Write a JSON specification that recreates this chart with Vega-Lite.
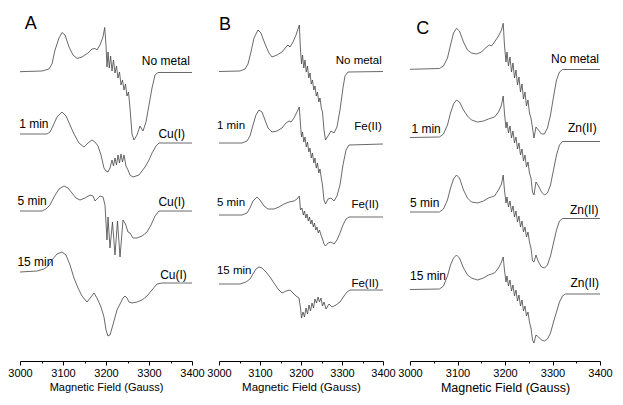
{
"$schema": "https://vega.github.io/schema/vega-lite/v6.json",
"background": "white",
"padding": {"left": 7, "top": 0, "right": 5, "bottom": 5},
"spacing": 27,
"bounds": "flush",
"config": {"view": {"stroke": null}, "font": "Liberation Sans",
  "axis": {"domainColor": "black", "tickColor": "black", "labelColor": "black", "titleColor": "black", "grid": false, "labelFlush": false, "labelOverlap": false, "titleFontWeight": "normal", "labelFont": "Liberation Sans", "titleFont": "Liberation Sans"}},
"datasets": {
"spectra": [
{"p":"A","t":"n","x":3000,"y":289.3},{"p":"A","t":"n","x":3051.2,"y":290},{"p":"A","t":"n","x":3067.4,"y":292},{"p":"A","t":"n","x":3074.4,"y":297},{"p":"A","t":"n","x":3081.4,"y":311},{"p":"A","t":"n","x":3090.7,"y":323},{"p":"A","t":"n","x":3097.7,"y":328.5},{"p":"A","t":"n","x":3104.7,"y":326},{"p":"A","t":"n","x":3114,"y":314},{"p":"A","t":"n","x":3123.3,"y":306},{"p":"A","t":"n","x":3132.6,"y":302.5},{"p":"A","t":"n","x":3144.2,"y":304},{"p":"A","t":"n","x":3158.1,"y":308},{"p":"A","t":"n","x":3167.4,"y":312},{"p":"A","t":"n","x":3174.4,"y":312.5},{"p":"A","t":"n","x":3179.1,"y":311},{"p":"A","t":"n","x":3186,"y":316},{"p":"A","t":"n","x":3193,"y":324},{"p":"A","t":"n","x":3197,"y":333.5},{"p":"A","t":"n","x":3200,"y":316},{"p":"A","t":"n","x":3202.3,"y":294},{"p":"A","t":"n","x":3204.7,"y":309},{"p":"A","t":"n","x":3207.7,"y":293},{"p":"A","t":"n","x":3210.7,"y":305},{"p":"A","t":"n","x":3214,"y":290},{"p":"A","t":"n","x":3217.4,"y":301},{"p":"A","t":"n","x":3220.9,"y":288},{"p":"A","t":"n","x":3224.4,"y":295},{"p":"A","t":"n","x":3227.9,"y":283},{"p":"A","t":"n","x":3231.4,"y":289},{"p":"A","t":"n","x":3234.9,"y":276},{"p":"A","t":"n","x":3238.4,"y":281},{"p":"A","t":"n","x":3241.9,"y":271},{"p":"A","t":"n","x":3245.3,"y":277},{"p":"A","t":"n","x":3248.8,"y":265},{"p":"A","t":"n","x":3252.3,"y":269},{"p":"A","t":"n","x":3255.8,"y":253},{"p":"A","t":"n","x":3260.5,"y":227},{"p":"A","t":"n","x":3265.1,"y":221},{"p":"A","t":"n","x":3272.1,"y":226},{"p":"A","t":"n","x":3279.1,"y":235},{"p":"A","t":"n","x":3286,"y":230},{"p":"A","t":"n","x":3293,"y":239},{"p":"A","t":"n","x":3300,"y":256},{"p":"A","t":"n","x":3307,"y":273},{"p":"A","t":"n","x":3314,"y":286},{"p":"A","t":"n","x":3320.9,"y":288.5},{"p":"A","t":"n","x":3400,"y":288.5},
{"p":"A","t":"1","x":3000,"y":227},{"p":"A","t":"1","x":3062.8,"y":227},{"p":"A","t":"1","x":3069.8,"y":229},{"p":"A","t":"1","x":3076.7,"y":235},{"p":"A","t":"1","x":3086,"y":244},{"p":"A","t":"1","x":3097.7,"y":249},{"p":"A","t":"1","x":3107,"y":245},{"p":"A","t":"1","x":3116.3,"y":236},{"p":"A","t":"1","x":3125.6,"y":227},{"p":"A","t":"1","x":3137.2,"y":218},{"p":"A","t":"1","x":3148.8,"y":214},{"p":"A","t":"1","x":3158.1,"y":218},{"p":"A","t":"1","x":3167.4,"y":221},{"p":"A","t":"1","x":3174.4,"y":219},{"p":"A","t":"1","x":3181.4,"y":215},{"p":"A","t":"1","x":3188.4,"y":206},{"p":"A","t":"1","x":3195.3,"y":193},{"p":"A","t":"1","x":3200,"y":190},{"p":"A","t":"1","x":3204.7,"y":189},{"p":"A","t":"1","x":3209.3,"y":193},{"p":"A","t":"1","x":3214,"y":201},{"p":"A","t":"1","x":3217.4,"y":195},{"p":"A","t":"1","x":3220.9,"y":203},{"p":"A","t":"1","x":3224.4,"y":196},{"p":"A","t":"1","x":3227.9,"y":206},{"p":"A","t":"1","x":3231.4,"y":198},{"p":"A","t":"1","x":3234.9,"y":207},{"p":"A","t":"1","x":3238.4,"y":199},{"p":"A","t":"1","x":3241.9,"y":206},{"p":"A","t":"1","x":3246.5,"y":195},{"p":"A","t":"1","x":3251.2,"y":191},{"p":"A","t":"1","x":3255.8,"y":186},{"p":"A","t":"1","x":3262.8,"y":184},{"p":"A","t":"1","x":3269.8,"y":185},{"p":"A","t":"1","x":3276.7,"y":186},{"p":"A","t":"1","x":3283.7,"y":190},{"p":"A","t":"1","x":3290.7,"y":194},{"p":"A","t":"1","x":3300,"y":201},{"p":"A","t":"1","x":3307,"y":208},{"p":"A","t":"1","x":3316.3,"y":215},{"p":"A","t":"1","x":3323.3,"y":218},{"p":"A","t":"1","x":3400,"y":218},
{"p":"A","t":"5","x":3000,"y":150},{"p":"A","t":"5","x":3051.2,"y":150},{"p":"A","t":"5","x":3060.5,"y":152},{"p":"A","t":"5","x":3069.8,"y":156},{"p":"A","t":"5","x":3079.1,"y":164},{"p":"A","t":"5","x":3090.7,"y":172},{"p":"A","t":"5","x":3102.3,"y":175},{"p":"A","t":"5","x":3111.6,"y":173},{"p":"A","t":"5","x":3120.9,"y":168},{"p":"A","t":"5","x":3130.2,"y":163},{"p":"A","t":"5","x":3139.5,"y":161},{"p":"A","t":"5","x":3151.2,"y":163},{"p":"A","t":"5","x":3162.8,"y":166},{"p":"A","t":"5","x":3169.8,"y":165},{"p":"A","t":"5","x":3174.4,"y":160},{"p":"A","t":"5","x":3179.1,"y":162},{"p":"A","t":"5","x":3186,"y":165},{"p":"A","t":"5","x":3193,"y":164},{"p":"A","t":"5","x":3197.7,"y":156},{"p":"A","t":"5","x":3202.3,"y":121},{"p":"A","t":"5","x":3204.7,"y":144},{"p":"A","t":"5","x":3209.3,"y":113},{"p":"A","t":"5","x":3215.1,"y":139},{"p":"A","t":"5","x":3220.9,"y":106},{"p":"A","t":"5","x":3226.7,"y":140},{"p":"A","t":"5","x":3232.6,"y":104},{"p":"A","t":"5","x":3239.5,"y":141},{"p":"A","t":"5","x":3245.3,"y":137},{"p":"A","t":"5","x":3251.2,"y":129},{"p":"A","t":"5","x":3255.8,"y":128},{"p":"A","t":"5","x":3262.8,"y":123},{"p":"A","t":"5","x":3272.1,"y":123},{"p":"A","t":"5","x":3283.7,"y":125},{"p":"A","t":"5","x":3295.3,"y":129},{"p":"A","t":"5","x":3304.7,"y":136},{"p":"A","t":"5","x":3314,"y":145},{"p":"A","t":"5","x":3323.3,"y":150},{"p":"A","t":"5","x":3400,"y":150},
{"p":"A","t":"15","x":3000,"y":89},{"p":"A","t":"15","x":3039.5,"y":90},{"p":"A","t":"15","x":3055.8,"y":92},{"p":"A","t":"15","x":3065.1,"y":95},{"p":"A","t":"15","x":3074.4,"y":101},{"p":"A","t":"15","x":3086,"y":107},{"p":"A","t":"15","x":3097.7,"y":109},{"p":"A","t":"15","x":3107,"y":106},{"p":"A","t":"15","x":3116.3,"y":96},{"p":"A","t":"15","x":3125.6,"y":83},{"p":"A","t":"15","x":3134.9,"y":73},{"p":"A","t":"15","x":3144.2,"y":65},{"p":"A","t":"15","x":3155.8,"y":59},{"p":"A","t":"15","x":3165.1,"y":64},{"p":"A","t":"15","x":3172.1,"y":68},{"p":"A","t":"15","x":3179.1,"y":63},{"p":"A","t":"15","x":3188.4,"y":54},{"p":"A","t":"15","x":3195.3,"y":44},{"p":"A","t":"15","x":3200,"y":31},{"p":"A","t":"15","x":3204.7,"y":25},{"p":"A","t":"15","x":3209.3,"y":26},{"p":"A","t":"15","x":3214,"y":33},{"p":"A","t":"15","x":3218.6,"y":40},{"p":"A","t":"15","x":3225.6,"y":51},{"p":"A","t":"15","x":3232.6,"y":57},{"p":"A","t":"15","x":3239.5,"y":63},{"p":"A","t":"15","x":3244.2,"y":65},{"p":"A","t":"15","x":3248.8,"y":63},{"p":"A","t":"15","x":3253.5,"y":59},{"p":"A","t":"15","x":3260.5,"y":58},{"p":"A","t":"15","x":3272.1,"y":59},{"p":"A","t":"15","x":3283.7,"y":61},{"p":"A","t":"15","x":3295.3,"y":65},{"p":"A","t":"15","x":3307,"y":71},{"p":"A","t":"15","x":3318.6,"y":77},{"p":"A","t":"15","x":3330.2,"y":78},{"p":"A","t":"15","x":3400,"y":78},
{"p":"B","t":"n","x":3000,"y":289.5},{"p":"B","t":"n","x":3051.2,"y":290},{"p":"B","t":"n","x":3063.4,"y":292},{"p":"B","t":"n","x":3070.7,"y":297},{"p":"B","t":"n","x":3078,"y":309},{"p":"B","t":"n","x":3085.4,"y":323},{"p":"B","t":"n","x":3095.1,"y":331},{"p":"B","t":"n","x":3102.4,"y":328},{"p":"B","t":"n","x":3112.2,"y":317},{"p":"B","t":"n","x":3122,"y":308},{"p":"B","t":"n","x":3129.3,"y":304},{"p":"B","t":"n","x":3141.5,"y":306},{"p":"B","t":"n","x":3153.7,"y":309},{"p":"B","t":"n","x":3163.4,"y":314},{"p":"B","t":"n","x":3168.3,"y":316},{"p":"B","t":"n","x":3173.2,"y":314},{"p":"B","t":"n","x":3180.5,"y":319},{"p":"B","t":"n","x":3187.8,"y":326},{"p":"B","t":"n","x":3195.9,"y":336},{"p":"B","t":"n","x":3198.8,"y":311},{"p":"B","t":"n","x":3201.2,"y":297},{"p":"B","t":"n","x":3203.7,"y":306},{"p":"B","t":"n","x":3206.8,"y":293},{"p":"B","t":"n","x":3209.8,"y":301},{"p":"B","t":"n","x":3212.9,"y":289},{"p":"B","t":"n","x":3215.9,"y":295},{"p":"B","t":"n","x":3219,"y":283},{"p":"B","t":"n","x":3222,"y":288},{"p":"B","t":"n","x":3225.1,"y":277},{"p":"B","t":"n","x":3228,"y":281},{"p":"B","t":"n","x":3231.2,"y":271},{"p":"B","t":"n","x":3234.1,"y":275},{"p":"B","t":"n","x":3237.3,"y":265},{"p":"B","t":"n","x":3240.2,"y":269},{"p":"B","t":"n","x":3243.4,"y":259},{"p":"B","t":"n","x":3246.3,"y":263},{"p":"B","t":"n","x":3249.5,"y":253},{"p":"B","t":"n","x":3252.4,"y":249},{"p":"B","t":"n","x":3256.1,"y":231},{"p":"B","t":"n","x":3259.8,"y":221},{"p":"B","t":"n","x":3265.9,"y":225},{"p":"B","t":"n","x":3273.2,"y":230},{"p":"B","t":"n","x":3280.5,"y":228},{"p":"B","t":"n","x":3287.8,"y":234},{"p":"B","t":"n","x":3295.1,"y":251},{"p":"B","t":"n","x":3302.4,"y":273},{"p":"B","t":"n","x":3307.3,"y":285},{"p":"B","t":"n","x":3314.6,"y":289},{"p":"B","t":"n","x":3400,"y":289.5},
{"p":"B","t":"1","x":3000,"y":218},{"p":"B","t":"1","x":3056.1,"y":218},{"p":"B","t":"1","x":3068.3,"y":220},{"p":"B","t":"1","x":3075.6,"y":225},{"p":"B","t":"1","x":3082.9,"y":236},{"p":"B","t":"1","x":3090.2,"y":246},{"p":"B","t":"1","x":3097.6,"y":251},{"p":"B","t":"1","x":3104.9,"y":249},{"p":"B","t":"1","x":3112.2,"y":241},{"p":"B","t":"1","x":3119.5,"y":233},{"p":"B","t":"1","x":3129.3,"y":229},{"p":"B","t":"1","x":3141.5,"y":230},{"p":"B","t":"1","x":3153.7,"y":233},{"p":"B","t":"1","x":3163.4,"y":238},{"p":"B","t":"1","x":3170.7,"y":240},{"p":"B","t":"1","x":3175.6,"y":239},{"p":"B","t":"1","x":3182.9,"y":243},{"p":"B","t":"1","x":3190.2,"y":249},{"p":"B","t":"1","x":3195.9,"y":254},{"p":"B","t":"1","x":3198.8,"y":236},{"p":"B","t":"1","x":3201.2,"y":224},{"p":"B","t":"1","x":3203.7,"y":229},{"p":"B","t":"1","x":3206.8,"y":219},{"p":"B","t":"1","x":3209.8,"y":224},{"p":"B","t":"1","x":3212.9,"y":214},{"p":"B","t":"1","x":3215.9,"y":219},{"p":"B","t":"1","x":3219,"y":209},{"p":"B","t":"1","x":3222,"y":213},{"p":"B","t":"1","x":3225.1,"y":203},{"p":"B","t":"1","x":3228,"y":208},{"p":"B","t":"1","x":3231.2,"y":198},{"p":"B","t":"1","x":3234.1,"y":203},{"p":"B","t":"1","x":3237.3,"y":193},{"p":"B","t":"1","x":3240.2,"y":198},{"p":"B","t":"1","x":3243.4,"y":188},{"p":"B","t":"1","x":3246.3,"y":192},{"p":"B","t":"1","x":3249.5,"y":183},{"p":"B","t":"1","x":3252.4,"y":176},{"p":"B","t":"1","x":3256.1,"y":161},{"p":"B","t":"1","x":3259.8,"y":157},{"p":"B","t":"1","x":3265.9,"y":162},{"p":"B","t":"1","x":3273.2,"y":163},{"p":"B","t":"1","x":3280.5,"y":160},{"p":"B","t":"1","x":3287.8,"y":165},{"p":"B","t":"1","x":3295.1,"y":176},{"p":"B","t":"1","x":3302.4,"y":196},{"p":"B","t":"1","x":3309.8,"y":211},{"p":"B","t":"1","x":3317.1,"y":216},{"p":"B","t":"1","x":3400,"y":217},
{"p":"B","t":"5","x":3000,"y":146},{"p":"B","t":"5","x":3056.1,"y":146},{"p":"B","t":"5","x":3068.3,"y":148},{"p":"B","t":"5","x":3075.6,"y":153},{"p":"B","t":"5","x":3082.9,"y":160},{"p":"B","t":"5","x":3092.7,"y":164},{"p":"B","t":"5","x":3100,"y":161},{"p":"B","t":"5","x":3109.8,"y":155},{"p":"B","t":"5","x":3119.5,"y":152},{"p":"B","t":"5","x":3134.1,"y":152},{"p":"B","t":"5","x":3146.3,"y":154},{"p":"B","t":"5","x":3158.5,"y":157},{"p":"B","t":"5","x":3170.7,"y":159},{"p":"B","t":"5","x":3182.9,"y":160},{"p":"B","t":"5","x":3190.2,"y":162},{"p":"B","t":"5","x":3195.9,"y":165},{"p":"B","t":"5","x":3198.8,"y":151},{"p":"B","t":"5","x":3202.4,"y":153},{"p":"B","t":"5","x":3205.6,"y":146},{"p":"B","t":"5","x":3208.5,"y":150},{"p":"B","t":"5","x":3211.7,"y":143},{"p":"B","t":"5","x":3214.6,"y":147},{"p":"B","t":"5","x":3217.8,"y":140},{"p":"B","t":"5","x":3220.7,"y":144},{"p":"B","t":"5","x":3223.9,"y":137},{"p":"B","t":"5","x":3226.8,"y":141},{"p":"B","t":"5","x":3230,"y":134},{"p":"B","t":"5","x":3232.9,"y":138},{"p":"B","t":"5","x":3236.1,"y":131},{"p":"B","t":"5","x":3239,"y":134},{"p":"B","t":"5","x":3242.2,"y":128},{"p":"B","t":"5","x":3245.1,"y":131},{"p":"B","t":"5","x":3248.8,"y":126},{"p":"B","t":"5","x":3252.4,"y":122},{"p":"B","t":"5","x":3256.1,"y":117},{"p":"B","t":"5","x":3259.8,"y":115},{"p":"B","t":"5","x":3265.9,"y":118},{"p":"B","t":"5","x":3273.2,"y":119},{"p":"B","t":"5","x":3280.5,"y":117},{"p":"B","t":"5","x":3287.8,"y":121},{"p":"B","t":"5","x":3295.1,"y":128},{"p":"B","t":"5","x":3302.4,"y":136},{"p":"B","t":"5","x":3309.8,"y":142},{"p":"B","t":"5","x":3317.1,"y":144},{"p":"B","t":"5","x":3400,"y":144},
{"p":"B","t":"15","x":3000,"y":77},{"p":"B","t":"15","x":3051.2,"y":77},{"p":"B","t":"15","x":3065.9,"y":79},{"p":"B","t":"15","x":3075.6,"y":82},{"p":"B","t":"15","x":3082.9,"y":87},{"p":"B","t":"15","x":3090.2,"y":92},{"p":"B","t":"15","x":3097.6,"y":94},{"p":"B","t":"15","x":3104.9,"y":93},{"p":"B","t":"15","x":3114.6,"y":89},{"p":"B","t":"15","x":3124.4,"y":84},{"p":"B","t":"15","x":3134.1,"y":78},{"p":"B","t":"15","x":3143.9,"y":72},{"p":"B","t":"15","x":3153.7,"y":68},{"p":"B","t":"15","x":3163.4,"y":70},{"p":"B","t":"15","x":3173.2,"y":71},{"p":"B","t":"15","x":3180.5,"y":68},{"p":"B","t":"15","x":3187.8,"y":65},{"p":"B","t":"15","x":3195.1,"y":63},{"p":"B","t":"15","x":3198.8,"y":53},{"p":"B","t":"15","x":3201.2,"y":43},{"p":"B","t":"15","x":3204.9,"y":49},{"p":"B","t":"15","x":3208.5,"y":44},{"p":"B","t":"15","x":3212.2,"y":53},{"p":"B","t":"15","x":3215.9,"y":47},{"p":"B","t":"15","x":3219.5,"y":56},{"p":"B","t":"15","x":3223.2,"y":50},{"p":"B","t":"15","x":3226.8,"y":58},{"p":"B","t":"15","x":3230.5,"y":53},{"p":"B","t":"15","x":3234.1,"y":62},{"p":"B","t":"15","x":3237.8,"y":58},{"p":"B","t":"15","x":3241.5,"y":64},{"p":"B","t":"15","x":3245.1,"y":59},{"p":"B","t":"15","x":3248.8,"y":63},{"p":"B","t":"15","x":3252.4,"y":55},{"p":"B","t":"15","x":3256.1,"y":59},{"p":"B","t":"15","x":3261,"y":52},{"p":"B","t":"15","x":3268.3,"y":57},{"p":"B","t":"15","x":3275.6,"y":54},{"p":"B","t":"15","x":3285.4,"y":56},{"p":"B","t":"15","x":3295.1,"y":59},{"p":"B","t":"15","x":3304.9,"y":65},{"p":"B","t":"15","x":3312.2,"y":69},{"p":"B","t":"15","x":3319.5,"y":71},{"p":"B","t":"15","x":3400,"y":71},
{"p":"C","t":"n","x":3000,"y":291.7},{"p":"C","t":"n","x":3062.1,"y":292.5},{"p":"C","t":"n","x":3070.5,"y":295},{"p":"C","t":"n","x":3078.9,"y":303},{"p":"C","t":"n","x":3085.3,"y":316},{"p":"C","t":"n","x":3091.6,"y":328},{"p":"C","t":"n","x":3097.9,"y":332.7},{"p":"C","t":"n","x":3104.2,"y":330},{"p":"C","t":"n","x":3112.6,"y":319},{"p":"C","t":"n","x":3121,"y":311},{"p":"C","t":"n","x":3129.4,"y":308},{"p":"C","t":"n","x":3139.9,"y":307},{"p":"C","t":"n","x":3150.5,"y":309},{"p":"C","t":"n","x":3161,"y":314},{"p":"C","t":"n","x":3167.3,"y":316},{"p":"C","t":"n","x":3171.5,"y":315},{"p":"C","t":"n","x":3177.9,"y":319},{"p":"C","t":"n","x":3186.3,"y":325},{"p":"C","t":"n","x":3192.6,"y":331},{"p":"C","t":"n","x":3196.2,"y":337.7},{"p":"C","t":"n","x":3198.9,"y":316},{"p":"C","t":"n","x":3202.1,"y":299},{"p":"C","t":"n","x":3204.2,"y":309},{"p":"C","t":"n","x":3207.3,"y":295},{"p":"C","t":"n","x":3210.5,"y":304},{"p":"C","t":"n","x":3213.7,"y":289},{"p":"C","t":"n","x":3216.8,"y":298},{"p":"C","t":"n","x":3220,"y":283},{"p":"C","t":"n","x":3223.1,"y":291},{"p":"C","t":"n","x":3226.3,"y":276},{"p":"C","t":"n","x":3229.4,"y":284},{"p":"C","t":"n","x":3232.6,"y":269},{"p":"C","t":"n","x":3235.8,"y":277},{"p":"C","t":"n","x":3238.9,"y":262},{"p":"C","t":"n","x":3242.1,"y":269},{"p":"C","t":"n","x":3245.2,"y":255},{"p":"C","t":"n","x":3248.4,"y":261},{"p":"C","t":"n","x":3251.5,"y":248},{"p":"C","t":"n","x":3254.7,"y":243},{"p":"C","t":"n","x":3257.9,"y":233},{"p":"C","t":"n","x":3261,"y":223},{"p":"C","t":"n","x":3265.2,"y":234},{"p":"C","t":"n","x":3270.5,"y":231},{"p":"C","t":"n","x":3276.8,"y":227},{"p":"C","t":"n","x":3283.1,"y":227},{"p":"C","t":"n","x":3289.4,"y":233},{"p":"C","t":"n","x":3295.8,"y":246},{"p":"C","t":"n","x":3302.1,"y":264},{"p":"C","t":"n","x":3308.4,"y":281},{"p":"C","t":"n","x":3314.7,"y":289},{"p":"C","t":"n","x":3321,"y":291.5},{"p":"C","t":"n","x":3400,"y":291.5},
{"p":"C","t":"1","x":3000,"y":223.5},{"p":"C","t":"1","x":3062.1,"y":224},{"p":"C","t":"1","x":3070.5,"y":227},{"p":"C","t":"1","x":3078.9,"y":236},{"p":"C","t":"1","x":3085.3,"y":248},{"p":"C","t":"1","x":3091.6,"y":257},{"p":"C","t":"1","x":3097.9,"y":261},{"p":"C","t":"1","x":3104.2,"y":259},{"p":"C","t":"1","x":3112.6,"y":251},{"p":"C","t":"1","x":3121,"y":245},{"p":"C","t":"1","x":3129.4,"y":241},{"p":"C","t":"1","x":3142.1,"y":239},{"p":"C","t":"1","x":3154.7,"y":240},{"p":"C","t":"1","x":3165.2,"y":242},{"p":"C","t":"1","x":3171.5,"y":243},{"p":"C","t":"1","x":3177.9,"y":244},{"p":"C","t":"1","x":3186.3,"y":249},{"p":"C","t":"1","x":3192.6,"y":256},{"p":"C","t":"1","x":3196.2,"y":265},{"p":"C","t":"1","x":3198.9,"y":248},{"p":"C","t":"1","x":3202.1,"y":233},{"p":"C","t":"1","x":3204.2,"y":239},{"p":"C","t":"1","x":3207.3,"y":228},{"p":"C","t":"1","x":3210.5,"y":235},{"p":"C","t":"1","x":3213.7,"y":223},{"p":"C","t":"1","x":3216.8,"y":230},{"p":"C","t":"1","x":3220,"y":218},{"p":"C","t":"1","x":3223.1,"y":224},{"p":"C","t":"1","x":3226.3,"y":212},{"p":"C","t":"1","x":3229.4,"y":218},{"p":"C","t":"1","x":3232.6,"y":206},{"p":"C","t":"1","x":3235.8,"y":212},{"p":"C","t":"1","x":3238.9,"y":200},{"p":"C","t":"1","x":3242.1,"y":206},{"p":"C","t":"1","x":3245.2,"y":194},{"p":"C","t":"1","x":3248.4,"y":199},{"p":"C","t":"1","x":3251.5,"y":188},{"p":"C","t":"1","x":3254.7,"y":183},{"p":"C","t":"1","x":3257.9,"y":169},{"p":"C","t":"1","x":3261,"y":166},{"p":"C","t":"1","x":3265.2,"y":179},{"p":"C","t":"1","x":3270.5,"y":175},{"p":"C","t":"1","x":3276.8,"y":169},{"p":"C","t":"1","x":3283.1,"y":166},{"p":"C","t":"1","x":3289.4,"y":168},{"p":"C","t":"1","x":3295.8,"y":176},{"p":"C","t":"1","x":3302.1,"y":191},{"p":"C","t":"1","x":3308.4,"y":206},{"p":"C","t":"1","x":3314.7,"y":216},{"p":"C","t":"1","x":3321,"y":219.5},{"p":"C","t":"1","x":3400,"y":219.5},
{"p":"C","t":"5","x":3000,"y":149},{"p":"C","t":"5","x":3062.1,"y":149},{"p":"C","t":"5","x":3070.5,"y":152},{"p":"C","t":"5","x":3078.9,"y":161},{"p":"C","t":"5","x":3085.3,"y":173},{"p":"C","t":"5","x":3091.6,"y":182},{"p":"C","t":"5","x":3097.9,"y":186},{"p":"C","t":"5","x":3104.2,"y":183},{"p":"C","t":"5","x":3112.6,"y":171},{"p":"C","t":"5","x":3121,"y":163},{"p":"C","t":"5","x":3129.4,"y":159},{"p":"C","t":"5","x":3142.1,"y":158},{"p":"C","t":"5","x":3154.7,"y":160},{"p":"C","t":"5","x":3165.2,"y":163},{"p":"C","t":"5","x":3171.5,"y":164},{"p":"C","t":"5","x":3177.9,"y":165},{"p":"C","t":"5","x":3186.3,"y":171},{"p":"C","t":"5","x":3192.6,"y":177},{"p":"C","t":"5","x":3196.2,"y":186},{"p":"C","t":"5","x":3198.9,"y":171},{"p":"C","t":"5","x":3202.1,"y":158},{"p":"C","t":"5","x":3204.2,"y":164},{"p":"C","t":"5","x":3207.3,"y":154},{"p":"C","t":"5","x":3210.5,"y":160},{"p":"C","t":"5","x":3213.7,"y":149},{"p":"C","t":"5","x":3216.8,"y":155},{"p":"C","t":"5","x":3220,"y":144},{"p":"C","t":"5","x":3223.1,"y":150},{"p":"C","t":"5","x":3226.3,"y":139},{"p":"C","t":"5","x":3229.4,"y":145},{"p":"C","t":"5","x":3232.6,"y":134},{"p":"C","t":"5","x":3235.8,"y":140},{"p":"C","t":"5","x":3238.9,"y":129},{"p":"C","t":"5","x":3242.1,"y":134},{"p":"C","t":"5","x":3245.2,"y":124},{"p":"C","t":"5","x":3248.4,"y":129},{"p":"C","t":"5","x":3251.5,"y":119},{"p":"C","t":"5","x":3254.7,"y":113},{"p":"C","t":"5","x":3257.9,"y":100},{"p":"C","t":"5","x":3261,"y":99},{"p":"C","t":"5","x":3265.2,"y":106},{"p":"C","t":"5","x":3270.5,"y":99},{"p":"C","t":"5","x":3276.8,"y":94},{"p":"C","t":"5","x":3283.1,"y":93},{"p":"C","t":"5","x":3289.4,"y":96},{"p":"C","t":"5","x":3295.8,"y":105},{"p":"C","t":"5","x":3302.1,"y":118},{"p":"C","t":"5","x":3308.4,"y":131},{"p":"C","t":"5","x":3314.7,"y":140},{"p":"C","t":"5","x":3321,"y":142.5},{"p":"C","t":"5","x":3400,"y":142.5},
{"p":"C","t":"15","x":3000,"y":71.5},{"p":"C","t":"15","x":3062.1,"y":72},{"p":"C","t":"15","x":3070.5,"y":75},{"p":"C","t":"15","x":3078.9,"y":85},{"p":"C","t":"15","x":3085.3,"y":96},{"p":"C","t":"15","x":3091.6,"y":103},{"p":"C","t":"15","x":3097.9,"y":106},{"p":"C","t":"15","x":3104.2,"y":103},{"p":"C","t":"15","x":3112.6,"y":93},{"p":"C","t":"15","x":3121,"y":86},{"p":"C","t":"15","x":3129.4,"y":83},{"p":"C","t":"15","x":3142.1,"y":81},{"p":"C","t":"15","x":3154.7,"y":83},{"p":"C","t":"15","x":3165.2,"y":86},{"p":"C","t":"15","x":3171.5,"y":87},{"p":"C","t":"15","x":3177.9,"y":88},{"p":"C","t":"15","x":3186.3,"y":93},{"p":"C","t":"15","x":3192.6,"y":99},{"p":"C","t":"15","x":3196.2,"y":104},{"p":"C","t":"15","x":3198.9,"y":91},{"p":"C","t":"15","x":3202.1,"y":79},{"p":"C","t":"15","x":3204.2,"y":85},{"p":"C","t":"15","x":3207.3,"y":75},{"p":"C","t":"15","x":3210.5,"y":81},{"p":"C","t":"15","x":3213.7,"y":70},{"p":"C","t":"15","x":3216.8,"y":76},{"p":"C","t":"15","x":3220,"y":65},{"p":"C","t":"15","x":3223.1,"y":71},{"p":"C","t":"15","x":3226.3,"y":60},{"p":"C","t":"15","x":3229.4,"y":66},{"p":"C","t":"15","x":3232.6,"y":55},{"p":"C","t":"15","x":3235.8,"y":61},{"p":"C","t":"15","x":3238.9,"y":50},{"p":"C","t":"15","x":3242.1,"y":55},{"p":"C","t":"15","x":3245.2,"y":45},{"p":"C","t":"15","x":3248.4,"y":49},{"p":"C","t":"15","x":3251.5,"y":39},{"p":"C","t":"15","x":3254.7,"y":33},{"p":"C","t":"15","x":3257.9,"y":21},{"p":"C","t":"15","x":3261,"y":18},{"p":"C","t":"15","x":3265.2,"y":26},{"p":"C","t":"15","x":3270.5,"y":24},{"p":"C","t":"15","x":3276.8,"y":21},{"p":"C","t":"15","x":3283.1,"y":20},{"p":"C","t":"15","x":3289.4,"y":22},{"p":"C","t":"15","x":3295.8,"y":28},{"p":"C","t":"15","x":3302.1,"y":39},{"p":"C","t":"15","x":3308.4,"y":49},{"p":"C","t":"15","x":3314.7,"y":59},{"p":"C","t":"15","x":3321,"y":65},{"p":"C","t":"15","x":3327.3,"y":67},{"p":"C","t":"15","x":3400,"y":67}
],
"labels": [
{"p":"A","k":"metal","s":"No metal","x":3395,"y":300},{"p":"A","k":"time","s":"1 min","x":2998,"y":237},{"p":"A","k":"metal","s":"Cu(I)","x":3384,"y":227},{"p":"A","k":"time","s":"5 min","x":2994,"y":160},{"p":"A","k":"metal","s":"Cu(I)","x":3384,"y":159},{"p":"A","k":"time","s":"15 min","x":2994,"y":99},{"p":"A","k":"metal","s":"Cu(I)","x":3388,"y":86},
{"p":"B","k":"metal","s":"No metal","x":3397,"y":300},{"p":"B","k":"time","s":"1 min","x":2995,"y":235},{"p":"B","k":"metal","s":"Fe(II)","x":3397,"y":234},{"p":"B","k":"time","s":"5 min","x":2995,"y":158.5},{"p":"B","k":"metal","s":"Fe(II)","x":3390,"y":156},{"p":"B","k":"time","s":"15 min","x":2995,"y":90},{"p":"B","k":"metal","s":"Fe(II)","x":3390,"y":77},
{"p":"C","k":"metal","s":"No metal","x":3398,"y":302},{"p":"C","k":"time","s":"1 min","x":3003,"y":232},{"p":"C","k":"metal","s":"Zn(II)","x":3393,"y":233},{"p":"C","k":"time","s":"5 min","x":3000,"y":158},{"p":"C","k":"metal","s":"Zn(II)","x":3397,"y":151},{"p":"C","k":"time","s":"15 min","x":3000,"y":85},{"p":"C","k":"metal","s":"Zn(II)","x":3398,"y":78},
{"p":"A","k":"panel","s":"A","x":3011,"y":337},{"p":"B","k":"panel","s":"B","x":3000,"y":336},{"p":"C","k":"panel","s":"C","x":3013,"y":332}
]
},
"hconcat": [
{"width": 172, "height": 361,
 "encoding": {
  "x": {"field":"x","type":"quantitative","scale":{"domain":[3000,3400],"nice":false},
   "axis":{"title":"Magnetic Field (Gauss)","values":[3000,3050,3100,3150,3200,3250,3300,3350,3400],"labelExpr":"datum.value % 100 === 0 ? datum.label : ''","format":"d","tickSize":{"condition":{"test":"datum.value % 100 === 0","value":4},"value":2},"labelPadding":2,"titlePadding":3,"labelFontSize":11,"titleFontSize":11,"labelFont":"Liberation Sans Narrow, Liberation Sans","titleFont":"Liberation Sans Narrow, Liberation Sans"}},
  "y": {"field":"y","type":"quantitative","scale":{"domain":[0,361]},"axis":null}},
 "layer": [
  {"data":{"name":"spectra"},"transform":[{"filter":"datum.p === 'A'"}],"mark":{"type":"line","stroke":"#444","strokeWidth":0.8},"encoding":{"detail":{"field":"t"}}},
  {"data":{"name":"labels"},"transform":[{"filter":"datum.p === 'A' && datum.k === 'time'"}],"mark":{"type":"text","align":"left","baseline":"middle","fontSize":12,"font":"Liberation Sans Narrow, Liberation Sans"},"encoding":{"text":{"field":"s"}}},
  {"data":{"name":"labels"},"transform":[{"filter":"datum.p === 'A' && datum.k === 'metal'"}],"mark":{"type":"text","align":"right","baseline":"middle","fontSize":12,"font":"Liberation Sans Narrow, Liberation Sans"},"encoding":{"text":{"field":"s"}}},
  {"data":{"name":"labels"},"transform":[{"filter":"datum.p === 'A' && datum.k === 'panel'"}],"mark":{"type":"text","align":"left","baseline":"middle","fontSize":18},"encoding":{"text":{"field":"s"}}}
 ]},
{"width": 164, "height": 361,
 "encoding": {
  "x": {"field":"x","type":"quantitative","scale":{"domain":[3000,3400],"nice":false},
   "axis":{"title":"Magnetic Field (Gauss)","values":[3000,3050,3100,3150,3200,3250,3300,3350,3400],"labelExpr":"datum.value % 100 === 0 ? datum.label : ''","format":"d","tickSize":{"condition":{"test":"datum.value % 100 === 0","value":4},"value":2},"labelPadding":2,"titlePadding":3,"labelFontSize":11,"titleFontSize":11.5}},
  "y": {"field":"y","type":"quantitative","scale":{"domain":[0,361]},"axis":null}},
 "layer": [
  {"data":{"name":"spectra"},"transform":[{"filter":"datum.p === 'B'"}],"mark":{"type":"line","stroke":"#444","strokeWidth":0.8},"encoding":{"detail":{"field":"t"}}},
  {"data":{"name":"labels"},"transform":[{"filter":"datum.p === 'B' && datum.k === 'time'"}],"mark":{"type":"text","align":"left","baseline":"middle","fontSize":11.5},"encoding":{"text":{"field":"s"}}},
  {"data":{"name":"labels"},"transform":[{"filter":"datum.p === 'B' && datum.k === 'metal'"}],"mark":{"type":"text","align":"right","baseline":"middle","fontSize":11.5},"encoding":{"text":{"field":"s"}}},
  {"data":{"name":"labels"},"transform":[{"filter":"datum.p === 'B' && datum.k === 'panel'"}],"mark":{"type":"text","align":"left","baseline":"middle","fontSize":18},"encoding":{"text":{"field":"s"}}}
 ]},
{"width": 190, "height": 361,
 "encoding": {
  "x": {"field":"x","type":"quantitative","scale":{"domain":[3000,3400],"nice":false},
   "axis":{"title":"Magnetic Field (Gauss)","values":[3000,3050,3100,3150,3200,3250,3300,3350,3400],"labelExpr":"datum.value % 100 === 0 ? datum.label : ''","format":"d","tickSize":{"condition":{"test":"datum.value % 100 === 0","value":4},"value":2},"labelPadding":2,"titlePadding":3,"labelFontSize":11,"titleFontSize":12.5}},
  "y": {"field":"y","type":"quantitative","scale":{"domain":[0,361]},"axis":null}},
 "layer": [
  {"data":{"name":"spectra"},"transform":[{"filter":"datum.p === 'C'"}],"mark":{"type":"line","stroke":"#444","strokeWidth":0.8},"encoding":{"detail":{"field":"t"}}},
  {"data":{"name":"labels"},"transform":[{"filter":"datum.p === 'C' && datum.k === 'time'"}],"mark":{"type":"text","align":"left","baseline":"middle","fontSize":12},"encoding":{"text":{"field":"s"}}},
  {"data":{"name":"labels"},"transform":[{"filter":"datum.p === 'C' && datum.k === 'metal'"}],"mark":{"type":"text","align":"right","baseline":"middle","fontSize":12},"encoding":{"text":{"field":"s"}}},
  {"data":{"name":"labels"},"transform":[{"filter":"datum.p === 'C' && datum.k === 'panel'"}],"mark":{"type":"text","align":"left","baseline":"middle","fontSize":18},"encoding":{"text":{"field":"s"}}}
 ]}
]
}
